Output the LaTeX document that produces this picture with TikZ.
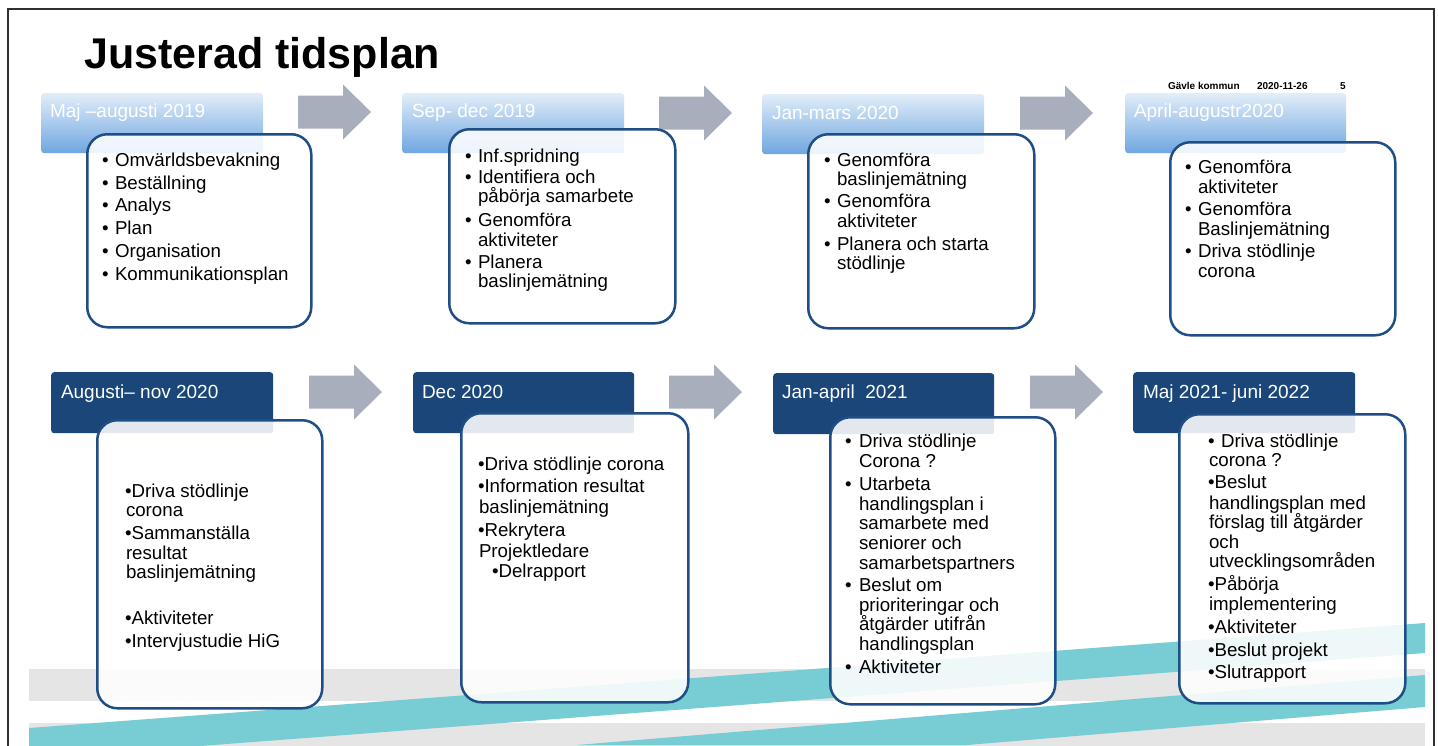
\documentclass[tikz,border=0pt]{standalone}
\usepackage{fontspec}
\setmainfont{Liberation Sans}
\definecolor{hdrdark}{HTML}{1A4679}
\definecolor{hdrtop}{HTML}{E2EDF9}
\definecolor{hdrmid}{HTML}{A9CAEE}
\definecolor{hdrbot}{HTML}{6EA6E0}
\definecolor{cardblue}{HTML}{1F4E87}
\definecolor{arrowgray}{HTML}{A9AEBC}
\definecolor{tealc}{HTML}{78CCD3}
\definecolor{bandgray}{HTML}{E5E5E5}
\definecolor{framec}{HTML}{303030}
\tikzset{
  hdrlight/.style={rectangle, rounded corners=3pt, inner sep=0pt, anchor=north west,
    top color=hdrtop, middle color=hdrmid, bottom color=hdrbot, draw=none},
  hdrblue/.style={rectangle, rounded corners=3pt, inner sep=0pt, anchor=north west,
    fill=hdrdark, draw=none},
  card/.style={rectangle, rounded corners=20pt, inner sep=0pt, anchor=north west,
    draw=cardblue, line width=2.5pt, fill=white, fill opacity=0.88},
  txt/.style={anchor=base west, inner sep=0pt, outer sep=0pt, text=black,
    font=\fontsize{18.7}{20}\selectfont},
  htxt/.style={anchor=base west, inner sep=0pt, outer sep=0pt, text=white,
    font=\fontsize{19}{21}\selectfont},
  small/.style={anchor=base west, inner sep=0pt, outer sep=0pt, text=black,
    font=\bfseries\fontsize{10}{12}\selectfont},
  blockarrow/.style={fill=arrowgray, draw=none}
}
\newcommand\Txt[4]{\node[txt] (#1) at (#2,#3) {#4};}
\newcommand\Bul[3]{\node[txt] (#1) at (#2,#3) {•};}
\newcommand\BlockArr[2]{%
  \begin{scope}[shift={(#1,#2)}]
    \fill[blockarrow] (0,-16.5) -- (45,-16.5) -- (45,-27.5) -- (73,0) -- (45,27.5) -- (45,16.5) -- (0,16.5) -- cycle;
  \end{scope}}
\begin{document}
\begin{tikzpicture}[x=1pt,y=-1pt]
\useasboundingbox (0,0) rectangle (1438,745);
\clip (0,0) rectangle (1438,745);
\fill[white] (0,0) rectangle (1438,745);

% frame
\draw[framec, line width=1.6pt] (8,9) rectangle (1434,800);

% background bands and stripes
\fill[bandgray] (29,669) rectangle (1425,701);
\fill[bandgray] (29,723) rectangle (1425,760);
\fill[tealc] (29,728) -- (1425,623) -- (1425,653) -- (29,759) -- cycle;
\fill[tealc] (577,745) -- (1425,675) -- (1425,707) -- (967,745) -- cycle;

% title and footer info
\node[anchor=base west, inner sep=0pt, font=\bfseries\fontsize{43}{43}\selectfont] (title) at (84,68) {Justerad tidsplan};
\node[small] (gk) at (1168,89) {Gävle kommun};
\node[small] (date) at (1257,89) {2020-11-26};
\node[small] (pg) at (1340,89) {5};

% arrows
\BlockArr{298}{112}
\BlockArr{659}{113}
\BlockArr{1020}{113}
\BlockArr{309}{392}
\BlockArr{669}{392}
\BlockArr{1030}{392}

% headers
\node[hdrlight, minimum width=222pt, minimum height=60pt] (h1) at (41,93) {};
\node[hdrlight, minimum width=222pt, minimum height=60pt] (h2) at (402,93) {};
\node[hdrlight, minimum width=222pt, minimum height=60pt] (h3) at (762,94) {};
\node[hdrlight, minimum width=221pt, minimum height=60pt] (h4) at (1125,93) {};
\node[hdrblue, minimum width=222pt, minimum height=61pt] (h5) at (51,372) {};
\node[hdrblue, minimum width=221pt, minimum height=61pt] (h6) at (413,372) {};
\node[hdrblue, minimum width=221pt, minimum height=61pt] (h7) at (773,373) {};
\node[hdrblue, minimum width=222pt, minimum height=61pt] (h8) at (1133,372) {};

\node[htxt] (h1t) at (50,117) {Maj –augusti 2019};
\node[htxt] (h2t) at (412,117) {Sep- dec 2019};
\node[htxt] (h3t) at (772,119) {Jan-mars 2020};
\node[htxt] (h4t) at (1134,117) {April-augustr2020};
\node[htxt] (h5t) at (61,398) {Augusti– nov 2020};
\node[htxt] (h6t) at (422,398) {Dec 2020};
\node[htxt] (h7t) at (782,398) {Jan-april\ \ 2021};
\node[htxt] (h8t) at (1143,398) {Maj 2021- juni 2022};

% cards
\node[card, minimum width=224pt, minimum height=193pt] (c1) at (86,133) {};
\node[card, minimum width=226pt, minimum height=194pt] (c2) at (448,128) {};
\node[card, minimum width=226pt, minimum height=194pt] (c3) at (807,133) {};
\node[card, minimum width=225pt, minimum height=193pt] (c4) at (1169,141) {};
\node[card, minimum width=225pt, minimum height=288pt] (c5) at (96,419) {};
\node[card, minimum width=227pt, minimum height=289pt] (c6) at (460,412) {};
\node[card, minimum width=225pt, minimum height=287pt] (c7) at (829,416) {};
\node[card, minimum width=226pt, minimum height=289pt] (c8) at (1178,413) {};

% card 1
\Bul{c1b1}{102}{166}\Txt{c1l1}{115}{166}{Omvärldsbevakning}
\Bul{c1b2}{102}{189}\Txt{c1l2}{115}{189}{Beställning}
\Bul{c1b3}{102}{211}\Txt{c1l3}{115}{211}{Analys}
\Bul{c1b4}{102}{234}\Txt{c1l4}{115}{234}{Plan}
\Bul{c1b5}{102}{257}\Txt{c1l5}{115}{257}{Organisation}
\Bul{c1b6}{102}{280}\Txt{c1l6}{115}{280}{Kommunikationsplan}

% card 2
\Bul{c2b1}{465}{162}\Txt{c2l1}{478}{162}{Inf.spridning}
\Bul{c2b2}{465}{183}\Txt{c2l2}{478}{183}{Identifiera och}
\Txt{c2l3}{478}{202}{påbörja samarbete}
\Bul{c2b3}{465}{226}\Txt{c2l4}{478}{226}{Genomföra}
\Txt{c2l5}{478}{246}{aktiviteter}
\Bul{c2b4}{465}{268}\Txt{c2l6}{478}{268}{Planera}
\Txt{c2l7}{478}{287}{baslinjemätning}

% card 3
\Bul{c3b1}{824}{166}\Txt{c3l1}{837}{166}{Genomföra}
\Txt{c3l2}{837}{185}{baslinjemätning}
\Bul{c3b2}{824}{207}\Txt{c3l3}{837}{207}{Genomföra}
\Txt{c3l4}{837}{227}{aktiviteter}
\Bul{c3b3}{824}{250}\Txt{c3l5}{837}{250}{Planera och starta}
\Txt{c3l6}{837}{269}{stödlinje}

% card 4
\Bul{c4b1}{1185}{173}\Txt{c4l1}{1198}{173}{Genomföra}
\Txt{c4l2}{1198}{193}{aktiviteter}
\Bul{c4b2}{1185}{215}\Txt{c4l3}{1198}{215}{Genomföra}
\Txt{c4l4}{1198}{235}{Baslinjemätning}
\Bul{c4b3}{1185}{257}\Txt{c4l5}{1198}{257}{Driva stödlinje}
\Txt{c4l6}{1198}{277}{corona}

% card 5
\Txt{c5l1}{125}{497}{•Driva stödlinje}
\Txt{c5l2}{126}{516}{corona}
\Txt{c5l3}{125}{539}{•Sammanställa}
\Txt{c5l4}{126}{559}{resultat}
\Txt{c5l5}{126}{578}{baslinjemätning}
\Txt{c5l6}{125}{624}{•Aktiviteter}
\Txt{c5l7}{125}{647}{•Intervjustudie HiG}

% card 6
\Txt{c6l1}{478}{470}{•Driva stödlinje corona}
\Txt{c6l2}{478}{492}{•Information resultat}
\Txt{c6l3}{479}{513}{baslinjemätning}
\Txt{c6l4}{478}{536}{•Rekrytera}
\Txt{c6l5}{479}{557}{Projektledare}
\Txt{c6l6}{492}{577}{•Delrapport}

% card 7
\Bul{c7b1}{845}{447}\Txt{c7l1}{859}{447}{Driva stödlinje}
\Txt{c7l2}{859}{467}{Corona ?}
\Bul{c7b2}{845}{490}\Txt{c7l3}{859}{490}{Utarbeta}
\Txt{c7l4}{859}{510}{handlingsplan i}
\Txt{c7l5}{859}{529}{samarbete med}
\Txt{c7l6}{859}{549}{seniorer och}
\Txt{c7l7}{859}{569}{samarbetspartners}
\Bul{c7b3}{845}{591}\Txt{c7l8}{859}{591}{Beslut om}
\Txt{c7l9}{859}{611}{prioriteringar och}
\Txt{c7l10}{859}{630}{åtgärder utifrån}
\Txt{c7l11}{859}{650}{handlingsplan}
\Bul{c7b4}{845}{673}\Txt{c7l12}{859}{673}{Aktiviteter}

% card 8
\Bul{c8b1}{1208}{447}\Txt{c8l1}{1221}{447}{Driva stödlinje}
\Txt{c8l2}{1209}{466}{corona ?}
\Txt{c8l3}{1208}{488}{•Beslut}
\Txt{c8l4}{1209}{509}{handlingsplan med}
\Txt{c8l5}{1209}{528}{förslag till åtgärder}
\Txt{c8l6}{1209}{548}{och}
\Txt{c8l7}{1209}{567}{utvecklingsområden}
\Txt{c8l8}{1208}{590}{•Påbörja}
\Txt{c8l9}{1209}{610}{implementering}
\Txt{c8l10}{1208}{633}{•Aktiviteter}
\Txt{c8l11}{1208}{656}{•Beslut projekt}
\Txt{c8l12}{1208}{678}{•Slutrapport}
\end{tikzpicture}
\end{document}
